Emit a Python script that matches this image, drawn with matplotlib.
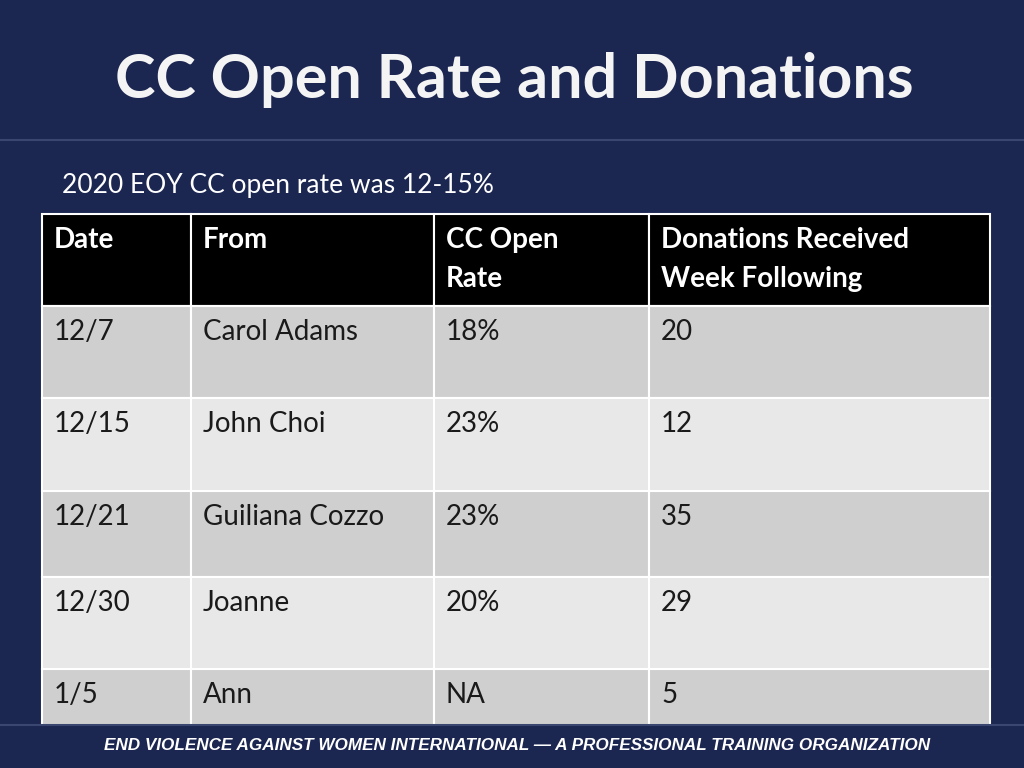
import matplotlib.pyplot as plt
from matplotlib.patches import Rectangle

title = "CC Open Rate and Donations"
subtitle = "2020 EOY CC open rate was 12-15%"
footer = "END VIOLENCE AGAINST WOMEN INTERNATIONAL \u2014 A PROFESSIONAL TRAINING ORGANIZATION"

headers = ["Date", "From", "CC Open\nRate", "Donations Received\nWeek Following"]
dates = ["12/7", "12/15", "12/21", "12/30", "1/5"]
senders = ["Carol Adams", "John Choi", "Guiliana Cozzo", "Joanne", "Ann"]
open_rates = ["18%", "23%", "23%", "20%", "NA"]
donations = ["20", "12", "35", "29", "5"]

col_x = [42, 191, 434, 649, 990]
row_y = [214, 306, 398, 491, 577, 669, 725]
row_colors = ["#cfcfcf", "#e8e8e8"]
navy = "#1b2651"
font = "Lato"

fig = plt.figure(figsize=(10.24, 7.68), dpi=100)
fig.patch.set_facecolor(navy)
ax = fig.add_axes([0, 0, 1, 1])
ax.set_xlim(0, 1024)
ax.set_ylim(768, 0)
ax.axis("off")

ax.text(514, 80, title, color="#f4f4f4", fontsize=44, fontweight="bold",
        fontfamily=font, ha="center", va="center")
ax.plot([0, 1024], [140, 140], color="#3a4670", lw=1.5)
ax.text(62, 185, subtitle, color="white", fontsize=19, fontfamily=font,
        ha="left", va="center")

rows = list(zip(dates, senders, open_rates, donations))
for r in range(len(row_y) - 1):
    y0, y1 = row_y[r], row_y[r + 1]
    cells = headers if r == 0 else rows[r - 1]
    bg = "black" if r == 0 else row_colors[(r - 1) % 2]
    tc = "white" if r == 0 else "#1a1a1a"
    for c in range(4):
        x0, x1 = col_x[c], col_x[c + 1]
        ax.add_patch(Rectangle((x0, y0), x1 - x0, y1 - y0, facecolor=bg,
                               edgecolor="white", lw=1.5))
        ax.text(x0 + 12, y0 + 13, cells[c], color=tc, fontsize=20,
                fontweight="bold" if r == 0 else "normal", fontfamily=font,
                ha="left", va="top", linespacing=1.6)

ax.add_patch(Rectangle((0, 725), 1024, 43, facecolor=navy, edgecolor="none"))
ax.plot([0, 1024], [725, 725], color="#3a4670", lw=1.5)
ax.text(517, 746, footer, color="white", fontsize=12.3, fontweight="bold",
        fontstyle="italic", fontfamily="Liberation Sans", ha="center", va="center")

fig.savefig("out.png", dpi=100, facecolor=fig.get_facecolor())
